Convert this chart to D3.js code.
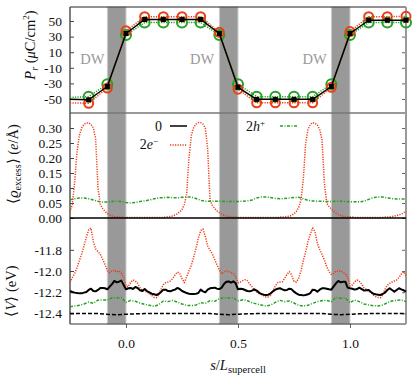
<!DOCTYPE html>
<html>
<head>
<meta charset="utf-8">
<script src="https://cdnjs.cloudflare.com/ajax/libs/d3/7.8.5/d3.min.js"></script>
<style>
    body { margin: 0; background: #fff; }
</style>
</head>
<body>
<div id="chart"></div>
<script>

// ----- data ----- //

// domain walls (shaded) and where the DW labels sit
var dwBands = [[-0.0833, 0], [0.4167, 0.5], [0.9167, 1.0]]
var dwLabelS = [-0.15, 0.34, 0.842]

// top panel: polarisation per unit cell
var polS = [-0.25, -0.1667, -0.0833, 0, 0.0833, 0.1667, 0.25, 0.3333, 0.4167, 0.5, 0.5833, 0.6667, 0.75, 0.8333, 0.9167, 1.0, 1.0833, 1.1667, 1.25]
var pol0 = [-50.5, -51, -34, 34, 52, 52, 52, 52, 34, -35, -50.5, -50.5, -50.5, -50.5, -34, 34, 51, 51, 51]
var pol2e = [-55, -55.5, -36, 37.5, 55.5, 55.5, 55.5, 55.5, 35.5, -37.5, -55, -55, -55, -55, -35, 36.5, 55.5, 55.5, 56]
var pol2h = [-48, -47, -31, 32, 48, 48, 48, 48, 32, -31, -47, -47, -47, -47, -31, 32, 48, 48, 48]

// middle panel: excess charge
var rho0 = [0, 0, 0, 0, 0, 0, 0, 0, 0, 0, 0, 0, 0, 0, 0, 0, 0, 0, 0]
var rho2e = [
    0.020, 0.045, 0.120, 0.220, 0.275, 0.300, 0.312, 0.317, 0.317, 0.312,
    0.300, 0.265, 0.100, 0.045, 0.032, 0.022, 0.015, 0.010, 0.007, 0.005,
    0.004, 0.003, 0.003, 0.002, 0.002, 0.002, 0.002, 0.002, 0.002, 0.002,
    0.002, 0.002, 0.002, 0.002, 0.002, 0.002, 0.002, 0.002, 0.002, 0.002,
    0.002, 0.003, 0.004, 0.005, 0.007, 0.010, 0.014, 0.020, 0.028, 0.045,
    0.080, 0.200, 0.275, 0.302, 0.313, 0.318, 0.318, 0.313, 0.300, 0.230,
    0.060, 0.042, 0.032, 0.024, 0.018, 0.013, 0.009, 0.007, 0.005, 0.004,
    0.003, 0.003, 0.002, 0.002, 0.002, 0.002, 0.002, 0.002, 0.002, 0.002,
    0.002, 0.002, 0.002, 0.002, 0.002, 0.002, 0.002, 0.002, 0.002, 0.002,
    0.003, 0.003, 0.004, 0.005, 0.006, 0.009, 0.014, 0.022, 0.035, 0.060,
    0.130, 0.250, 0.295, 0.312, 0.318, 0.316, 0.310, 0.295, 0.260, 0.120,
    0.050, 0.038, 0.030, 0.022, 0.016, 0.011, 0.008, 0.006, 0.005, 0.004,
    0.003, 0.003, 0.002, 0.002, 0.002, 0.002, 0.002, 0.002, 0.002, 0.002,
    0.002, 0.002, 0.002, 0.002, 0.002, 0.003, 0.003, 0.004, 0.005, 0.006,
    0.008, 0.010, 0.013, 0.017, 0.022
]
var rho2h = [
    0.061, 0.064, 0.067, 0.067, 0.064, 0.060, 0.056, 0.053, 0.053, 0.055,
    0.056, 0.055, 0.052, 0.050, 0.052, 0.055, 0.057, 0.060, 0.064, 0.067,
    0.068, 0.069, 0.068, 0.067, 0.069, 0.070, 0.070, 0.065, 0.059, 0.056,
    0.056, 0.056, 0.056, 0.055, 0.055, 0.055, 0.055, 0.056, 0.057, 0.060,
    0.067, 0.070, 0.070, 0.068, 0.065, 0.064, 0.065, 0.067, 0.068, 0.069,
    0.064, 0.059, 0.057, 0.056, 0.056, 0.055, 0.055, 0.056, 0.056, 0.055,
    0.054, 0.054, 0.054, 0.056, 0.062, 0.068, 0.070, 0.070, 0.067, 0.065,
    0.063, 0.063, 0.063
]

// bottom panel: averaged potential
var v0 = [
    -12.189, -12.198, -12.204, -12.208, -12.211, -12.211, -12.204, -12.198, -12.179, -12.167,
    -12.189, -12.192, -12.179, -12.160, -12.160, -12.163, -12.173, -12.148, -12.123, -12.094,
    -12.107, -12.101, -12.091, -12.132, -12.173, -12.163, -12.160, -12.170, -12.151, -12.160,
    -12.182, -12.189, -12.170, -12.189, -12.201, -12.214, -12.220, -12.226, -12.217, -12.198,
    -12.176, -12.176, -12.189, -12.192, -12.182, -12.176, -12.160, -12.170, -12.189, -12.198,
    -12.208, -12.214, -12.217, -12.217, -12.214, -12.208, -12.176, -12.192, -12.201, -12.176,
    -12.163, -12.160, -12.157, -12.167, -12.170, -12.157, -12.123, -12.101, -12.098, -12.110,
    -12.098, -12.116, -12.173, -12.167, -12.170, -12.179, -12.189, -12.192, -12.185, -12.173,
    -12.185, -12.204, -12.217, -12.223, -12.226, -12.223, -12.211, -12.192, -12.176, -12.167,
    -12.163, -12.173, -12.182, -12.179, -12.167, -12.173, -12.195, -12.211, -12.223, -12.226,
    -12.230, -12.226, -12.220, -12.208, -12.176, -12.179, -12.195, -12.176, -12.163, -12.163,
    -12.167, -12.173, -12.176, -12.145, -12.116, -12.094, -12.107, -12.101, -12.101, -12.157,
    -12.163, -12.167, -12.176, -12.170, -12.157, -12.170, -12.185, -12.182, -12.179, -12.198,
    -12.214, -12.220, -12.223, -12.226, -12.217, -12.204, -12.179, -12.163, -12.179, -12.195,
    -12.179, -12.163, -12.173, -12.182, -12.195
]
var v2e = [
    -12.107, -12.063, -12.022, -11.969, -11.903, -11.840, -11.764, -11.683, -11.613, -11.594,
    -11.723, -11.793, -11.818, -11.843, -11.890, -11.937, -11.997, -12.016, -12.000, -11.991,
    -12.010, -11.997, -12.022, -12.060, -12.142, -12.148, -12.107, -12.085, -12.094, -12.116,
    -12.157, -12.182, -12.192, -12.198, -12.214, -12.230, -12.249, -12.252, -12.223, -12.173,
    -12.129, -12.110, -12.104, -12.094, -12.072, -12.038, -12.010, -12.022, -12.069, -12.110,
    -12.054, -11.997, -11.947, -11.871, -11.786, -11.692, -11.620, -11.604, -11.676, -11.764,
    -11.802, -11.840, -11.890, -11.944, -11.991, -12.028, -12.010, -11.997, -12.006, -12.016,
    -12.022, -12.054, -12.110, -12.104, -12.091, -12.082, -12.091, -12.123, -12.148, -12.179,
    -12.198, -12.214, -12.223, -12.233, -12.245, -12.245, -12.230, -12.185, -12.142, -12.110,
    -12.104, -12.101, -12.069, -12.032, -12.006, -12.038, -12.098, -12.104, -12.069, -11.997,
    -11.903, -11.818, -11.723, -11.651, -11.594, -11.629, -11.739, -11.796, -11.843, -11.896,
    -11.959, -12.006, -12.032, -12.022, -12.000, -12.006, -11.997, -12.016, -12.022, -12.060,
    -12.142, -12.132, -12.101, -12.085, -12.098, -12.123, -12.160, -12.173, -12.189, -12.204,
    -12.226, -12.242, -12.249, -12.252, -12.226, -12.173, -12.135, -12.116, -12.104, -12.094,
    -12.085, -12.060, -12.028, -12.006, -12.047
]
var v2h = [
    -12.337, -12.330, -12.324, -12.311, -12.293, -12.305, -12.274, -12.274, -12.274, -12.252,
    -12.255, -12.249, -12.296, -12.277, -12.286, -12.302, -12.315, -12.324, -12.333, -12.318,
    -12.283, -12.289, -12.277, -12.293, -12.311, -12.324, -12.327, -12.321, -12.299, -12.305,
    -12.280, -12.286, -12.261, -12.252, -12.255, -12.252, -12.283, -12.271, -12.280, -12.299,
    -12.311, -12.321, -12.330, -12.321, -12.296, -12.277, -12.289, -12.283, -12.302, -12.324,
    -12.330, -12.324, -12.305, -12.289, -12.280, -12.277, -12.289, -12.249, -12.258, -12.255,
    -12.299, -12.274, -12.289, -12.311, -12.321, -12.327, -12.330, -12.321, -12.299, -12.283,
    -12.277, -12.274, -12.289
]
var vBulk = [
    -12.400, -12.400, -12.400, -12.401, -12.408, -12.413, -12.408, -12.404, -12.402, -12.401,
    -12.400, -12.400, -12.400, -12.400, -12.400, -12.401, -12.408, -12.413, -12.408, -12.404,
    -12.402, -12.401, -12.400, -12.400, -12.400, -12.400, -12.400, -12.401, -12.408, -12.413,
    -12.408, -12.404, -12.402, -12.401, -12.400, -12.400, -12.400
]

var polTicks = [-50, -30, -10, 10, 30, 50]
var rhoTicks = [0, 0.05, 0.10, 0.15, 0.20, 0.25, 0.30]
var vTicks = [-12.4, -12.2, -12.0, -11.8]
var sTicks = [0, 0.5, 1.0]

// sampling grids of the profiles along s
var s96 = d3.range(145).map(i => -0.25 + i / 96)
var s48 = d3.range(73).map(i => -0.25 + i / 48)
var s24 = d3.range(37).map(i => -0.25 + i / 24)
var s12 = d3.range(19).map(i => -0.25 + i / 12)

var red = "#ee3d14"
var green = "#22a322"
var serif = "Liberation Serif"


// ----- svg and scales ----- //

var svg = d3.select("#chart")
    .append("svg")
    .attr("width", 415)
    .attr("height", 377)

var x = d3.scaleLinear().domain([-0.25, 1.25]).range([70, 406])
var yPol = d3.scaleLinear().domain([-68, 68]).range([113, 7])
var yRho = d3.scaleLinear().domain([0, 0.35]).range([218, 113])
var yV = d3.scaleLinear().domain([-12.5, -11.5]).range([324, 218])


// ----- shaded domain walls ----- //

svg.selectAll(".dw")
    .data(dwBands)
    .enter()
    .append("rect")
    .attr("class", "dw")
    .attr("x", d => x(d[0]))
    .attr("width", d => x(d[1]) - x(d[0]))
    .attr("y", 7)
    .attr("height", 317)
    .attr("fill", "#999")
    .attr("stroke", "#cfcfcf")
    .attr("stroke-width", 1)


// ----- axes ----- //

function leftAxis(scale, ticks, fmt) {
    var g = svg.append("g")
        .attr("transform", "translate(70,0)")
        .call(d3.axisLeft(scale).tickValues(ticks).tickFormat(fmt).tickSizeInner(-4).tickSizeOuter(0).tickPadding(8))
    g.attr("font-family", serif).attr("font-size", 13.5)
    g.select(".domain").remove()
    g.selectAll("line").attr("stroke", "#444")
    g.selectAll("text").attr("fill", "#111")
}

function rightAxis(scale, ticks) {
    var g = svg.append("g")
        .attr("transform", "translate(406,0)")
        .call(d3.axisRight(scale).tickValues(ticks).tickFormat("").tickSizeInner(-4).tickSizeOuter(0))
    g.select(".domain").remove()
    g.selectAll("line").attr("stroke", "#666")
}

leftAxis(yPol, polTicks, d => d.toFixed(0))
leftAxis(yRho, rhoTicks, d => d.toFixed(2))
leftAxis(yV, vTicks, d => d.toFixed(1))
rightAxis(yPol, polTicks)
rightAxis(yRho, rhoTicks)
rightAxis(yV, vTicks)

var gx = svg.append("g")
    .attr("transform", "translate(0,324)")
    .call(d3.axisBottom(x).tickValues(sTicks).tickFormat(d => d.toFixed(1)).tickSizeInner(4).tickSizeOuter(0).tickPadding(10))
gx.attr("font-family", serif).attr("font-size", 13.5)
gx.select(".domain").remove()
gx.selectAll("line").attr("stroke", "#666")
gx.selectAll("text").attr("fill", "#111")


// ----- frame ----- //

svg.append("line").attr("x1", 70).attr("x2", 406).attr("y1", 7).attr("y2", 7).attr("stroke", "#222").attr("stroke-width", 1)
svg.append("line").attr("x1", 70).attr("x2", 406).attr("y1", 113).attr("y2", 113).attr("stroke", "#777").attr("stroke-width", 1.5)
svg.append("line").attr("x1", 70).attr("x2", 406).attr("y1", 324).attr("y2", 324).attr("stroke", "#333").attr("stroke-width", 1)
svg.append("line").attr("x1", 70).attr("x2", 70).attr("y1", 7).attr("y2", 324).attr("stroke", "#555").attr("stroke-width", 1.5)
svg.append("line").attr("x1", 406).attr("x2", 406).attr("y1", 7).attr("y2", 324).attr("stroke", "#999").attr("stroke-width", 2)


// ----- helper for the profiles ----- //

function profile(sArr, vals, yScale, color, width, dash) {
    var line = d3.line()
        .x((d, i) => x(sArr[i]))
        .y(d => yScale(d))
    var p = svg.append("path")
        .datum(vals)
        .attr("d", line)
        .attr("fill", "none")
        .attr("stroke", color)
        .attr("stroke-width", width)
        .attr("stroke-linejoin", "round")
    if (dash) p.attr("stroke-dasharray", dash)
    return p
}


// ----- top panel: P_r ----- //

profile(polS, pol2h, yPol, green, 1.5, "1.2,1.3")
svg.selectAll(".c2h")
    .data(pol2h.slice(1))
    .enter()
    .append("circle")
    .attr("cx", (d, i) => x(polS[i + 1]))
    .attr("cy", d => yPol(d))
    .attr("r", 5)
    .attr("fill", "none")
    .attr("stroke", green)
    .attr("stroke-width", 2)

profile(polS, pol2e, yPol, red, 1.5, "1.2,1.3")
svg.selectAll(".c2e")
    .data(pol2e.slice(1))
    .enter()
    .append("circle")
    .attr("cx", (d, i) => x(polS[i + 1]))
    .attr("cy", d => yPol(d))
    .attr("r", 4.5)
    .attr("fill", "none")
    .attr("stroke", red)
    .attr("stroke-width", 2)

profile(polS, pol0, yPol, "#000", 1.5)
svg.selectAll(".sq0")
    .data(pol0.slice(1))
    .enter()
    .append("rect")
    .attr("x", (d, i) => x(polS[i + 1]) - 2.5)
    .attr("y", d => yPol(d) - 2.5)
    .attr("width", 5)
    .attr("height", 5)
    .attr("fill", "#000")

svg.selectAll(".dwlabel")
    .data(dwLabelS)
    .enter()
    .append("text")
    .attr("x", d => x(d))
    .attr("y", yPol(-5))
    .attr("text-anchor", "middle")
    .attr("font-family", serif)
    .attr("font-size", 14.5)
    .attr("fill", "#999")
    .text("DW")


// ----- middle panel: excess charge ----- //

profile(s48, rho2h, yRho, green, 1.5, "3,1.5,1,1.5")
profile(s96, rho2e, yRho, red, 1.5, "1.2,1.3")
profile(s12, rho0, yRho, "#000", 1.5)


// ----- bottom panel: potential ----- //

profile(s24, vBulk, yV, "#000", 1.5, "4,2")
profile(s48, v2h, yV, green, 1.5, "3,1.5,1,1.5")
profile(s96, v2e, yV, red, 1.5, "1.2,1.3")
profile(s96, v0, yV, "#000", 2)


// ----- legend ----- //

function richText(parent, parts) {
    parts.forEach(function (p) {
        var t = parent.append("tspan").text(p.t)
        if (p.it) t.attr("font-style", "italic")
        if (p.dy) t.attr("dy", p.dy)
        if (p.size) t.attr("font-size", p.size)
    })
    return parent
}

var legend = [
    { parts: [{ t: "0" }], tx: 162, ty: 131, lx: 170, ly: 126, color: "#000", dash: null },
    { parts: [{ t: "2" }, { t: "e", it: true }, { t: "\u2212", dy: -5, size: 9 }], tx: 158, ty: 149, lx: 170, ly: 145, color: red, dash: "1.2,1.3" },
    { parts: [{ t: "2" }, { t: "h", it: true }, { t: "+", dy: -5, size: 9 }], tx: 265, ty: 131, lx: 280, ly: 126, color: green, dash: "3,1.5,1,1.5" }
]

legend.forEach(function (l) {
    var t = svg.append("text")
        .attr("x", l.tx)
        .attr("y", l.ty)
        .attr("text-anchor", "end")
        .attr("font-family", serif)
        .attr("font-size", 14)
        .attr("fill", "#111")
    richText(t, l.parts)
    var ln = svg.append("line")
        .attr("x1", l.lx).attr("x2", l.lx + 17)
        .attr("y1", l.ly).attr("y2", l.ly)
        .attr("stroke", l.color)
        .attr("stroke-width", 1.5)
    if (l.dash) ln.attr("stroke-dasharray", l.dash)
})


// ----- axis titles ----- //

var yTitles = [
    { x: 35, y: 45, parts: [{ t: "P", it: true }, { t: "r", it: true, dy: 3, size: 10 }, { t: " (", dy: -3 }, { t: "\u03bc", it: true }, { t: "C/cm" }, { t: "2", dy: -6, size: 9 }, { t: ")", dy: 6 }] },
    { x: 18, y: 164, parts: [{ t: "\u27e8" }, { t: "\u03f1", it: true }, { t: "excess", dy: 3, size: 10 }, { t: "\u27e9", dy: -3 }, { t: " (" }, { t: "e", it: true }, { t: "/\u00c5)" }] },
    { x: 16, y: 291, parts: [{ t: "\u27e8" }, { t: "V", it: true }, { t: "\u27e9 (eV)" }] }
]

yTitles.forEach(function (d) {
    var t = svg.append("text")
        .attr("transform", "translate(" + d.x + "," + d.y + ") rotate(-90)")
        .attr("text-anchor", "middle")
        .attr("font-family", serif)
        .attr("font-size", 14.5)
        .attr("fill", "#111")
    richText(t, d.parts)
})

var xt = svg.append("text")
    .attr("x", 238)
    .attr("y", 370)
    .attr("text-anchor", "middle")
    .attr("font-family", serif)
    .attr("font-size", 14.5)
    .attr("fill", "#111")
richText(xt, [{ t: "s", it: true }, { t: "/" }, { t: "L", it: true }, { t: "supercell", dy: 3, size: 10.5 }])

</script>
</body>
</html>
